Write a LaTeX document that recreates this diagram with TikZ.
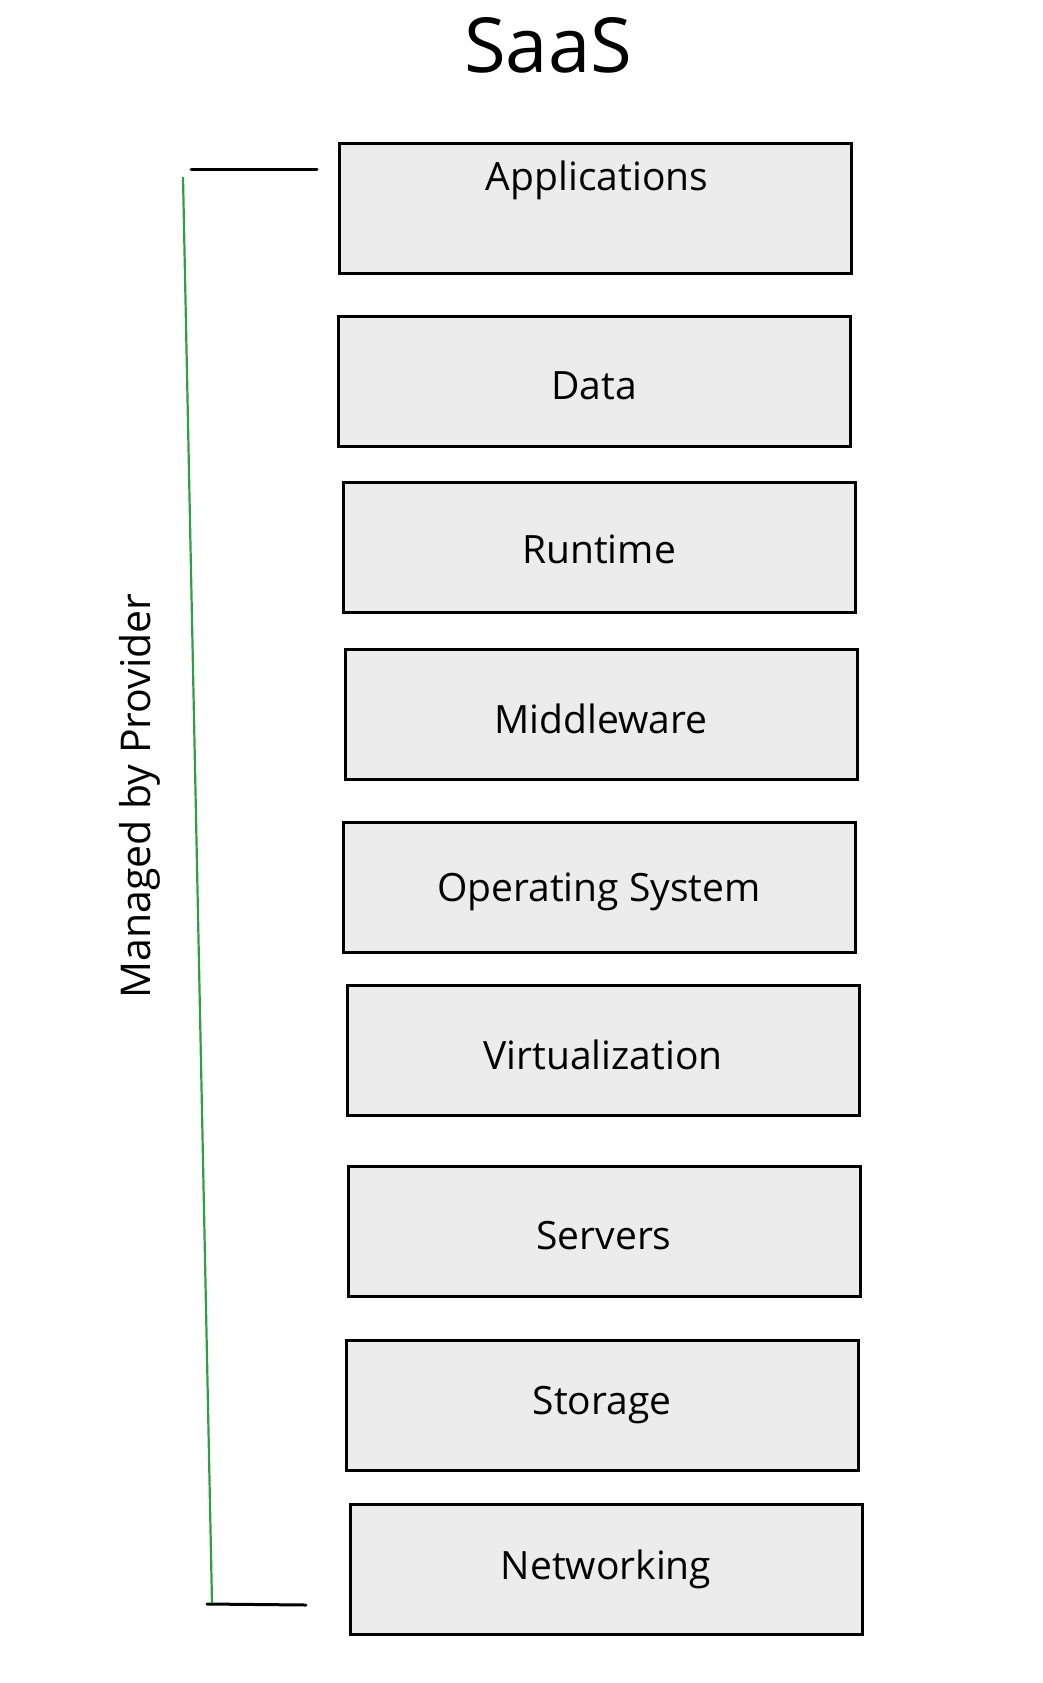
\documentclass[tikz,border=0pt]{standalone}
\usepackage{fontspec}
\setmainfont{Open Sans}
\usetikzlibrary{positioning}

\definecolor{layerfill}{HTML}{ECECEC}
\definecolor{providergreen}{HTML}{2F9E44}

\tikzset{
  layer/.style={draw=black, line width=3pt, fill=layerfill, minimum width=512pt, minimum height=130pt, inner sep=0pt},
  layertext/.style={font=\fontsize{39}{44}\selectfont, inner sep=0pt},
  bracket/.style={line width=3pt, line cap=round},
}

\begin{document}
\begin{tikzpicture}[x=1pt, y=-1pt]
% Page size in pixels of the reference
\useasboundingbox (0,0) rectangle (1043,1683);

% Title
\node[font=\fontsize{76}{80}\selectfont] (title) at (548, 45) {SaaS};

% The stack of layers
\node[layer] (apps) at (595, 208) {};
\node[layertext] (appstext) at (597, 180) {Applications};
\node[layer] (data) at (594, 381) {};
\node[layertext] at ([yshift=-5pt]data.center) {Data};
\node[layer] (runtime) at (599, 547) {};
\node[layertext] at ([yshift=-2pt]runtime.center) {Runtime};
\node[layer] (middleware) at (601, 714) {};
\node[layertext] at ([yshift=-5pt]middleware.center) {Middleware};
\node[layer] (os) at (599, 887) {};
\node[layertext] at ([yshift=-5pt]os.center) {Operating System};
\node[layer] (virt) at (603, 1050) {};
\node[layertext] at ([yshift=-5pt]virt.center) {Virtualization};
\node[layer] (servers) at (604, 1231) {};
\node[layertext] at ([yshift=-5pt]servers.center) {Servers};
\node[layer] (storage) at (602, 1405) {};
\node[layertext] at (storage.center) {Storage};
\node[layer] (networking) at (606, 1569) {};
\node[layertext] at (networking.center) {Networking};

% Bracket on the left
\coordinate (toptick) at (191, 169);
\coordinate (topend) at (317, 169);
\coordinate (greentop) at (183, 177);
\coordinate (greenbot) at (212, 1603);
\coordinate (bottick) at (207, 1604);
\coordinate (botend) at (306, 1605);
\draw[bracket] (toptick) -- (topend);
\draw[bracket] (bottick) -- (botend);
\draw[providergreen, line width=2.2pt] (greentop) -- (greenbot);

\node[rotate=90, font=\fontsize{41}{46}\selectfont] (provider) at (140, 796) {Managed by Provider};
\end{tikzpicture}
\end{document}
